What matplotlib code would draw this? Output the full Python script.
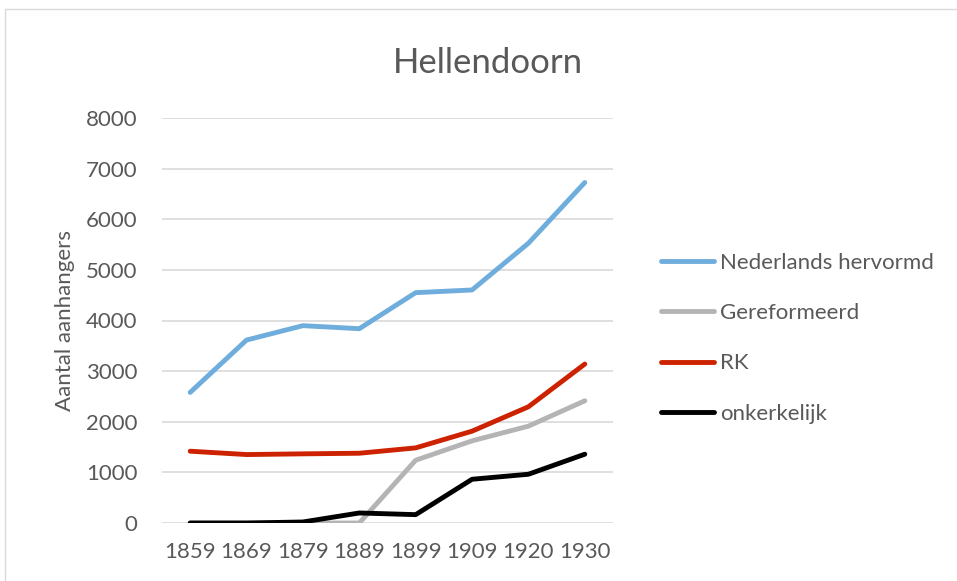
import matplotlib
matplotlib.use("Agg")
import matplotlib.pyplot as plt
from matplotlib.patches import Rectangle

years = ["1859", "1869", "1879", "1889", "1899", "1909", "1920", "1930"]
ned_hervormd = [2580, 3614, 3898, 3838, 4550, 4603, 5527, 6726]
gereformeerd = [0, 0, 0, 0, 1240, 1623, 1913, 2414]
rk = [1418, 1352, 1366, 1378, 1484, 1814, 2296, 3140]
onkerkelijk = [0, 0, 20, 198, 165, 864, 963, 1359]

series = [
    ("Nederlands hervormd", ned_hervormd, "#6FADDC"),
    ("Gereformeerd", gereformeerd, "#B4B4B4"),
    ("RK", rk, "#CC2200"),
    ("onkerkelijk", onkerkelijk, "#000000"),
]

plt.rcParams['font.family'] = ['Lato', 'DejaVu Sans']
txt = "#595959"

fig = plt.figure(figsize=(9.57, 5.81), dpi=100)
fig.patches.append(Rectangle((5/957, -0.01), 1.02, 1 - 9/581 + 0.01, transform=fig.transFigure,
                             fill=False, edgecolor="#D9D9D9", linewidth=1))
ax = fig.add_axes([162/957, 1 - 523/581, (613-162)/957, (523-118)/581])

x = list(range(len(years)))
for name, vals, col in series:
    ax.plot(x, vals, color=col, linewidth=3.5, label=name, solid_capstyle="round",
            solid_joinstyle="round")

ax.set_xlim(-0.5, len(years) - 0.5)
ax.set_ylim(0, 8000)
ax.set_yticks(range(0, 8001, 1000))
ax.set_xticks(x)
ax.set_xticklabels(years)
ax.grid(axis="y", color="#D9D9D9", linewidth=1.2)
ax.set_axisbelow(True)
for s in ax.spines.values():
    s.set_visible(False)
ax.tick_params(axis="both", length=0, labelsize=16, colors=txt)
ax.tick_params(axis="x", pad=13.5)
ax.tick_params(axis="y", pad=17.5)
ax.set_ylabel("Aantal aanhangers", fontsize=16, color=txt, labelpad=8)

fig.text(488/957, 1 - 63/581, "Hellendoorn", ha="center", va="center", fontsize=25, color=txt)

leg = ax.legend(loc="upper left", bbox_to_anchor=(652/957, 1 - 244/581), bbox_transform=fig.transFigure,
                frameon=False, fontsize=16, labelspacing=1.36, handlelength=2.4, handletextpad=0.28,
                borderaxespad=0)
for t in leg.get_texts():
    t.set_color(txt)

fig.savefig("out.png", dpi=100)
